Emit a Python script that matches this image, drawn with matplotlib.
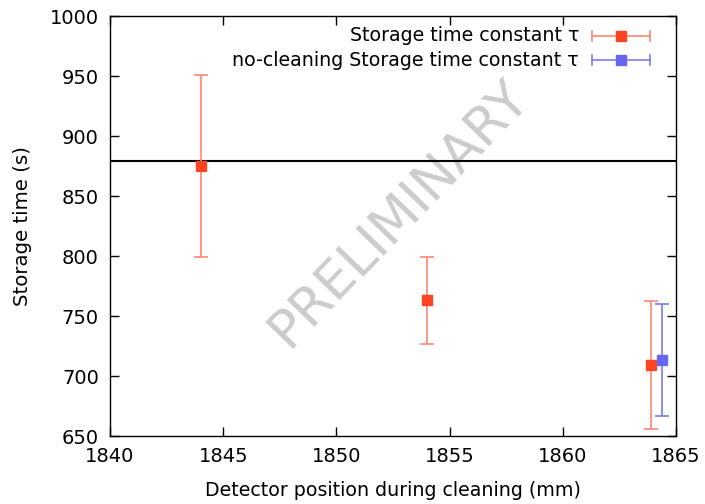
import matplotlib
matplotlib.use('Agg')
import matplotlib.pyplot as plt
from matplotlib.lines import Line2D

# storage time vs detector position during cleaning
pos = [1844, 1854, 1863.9]
tau = [875, 763, 709]
tau_err = [76, 36.5, 53.5]

pos_nc = [1864.4]
tau_nc = [713.5]
tau_nc_err = [46.5]

ref_tau = 879.4

red = '#ff4422'
red_bar = '#ff8877'
blue = '#6666ee'
blue_bar = '#7a7aee'

plt.rcParams['font.family'] = 'DejaVu Sans'
plt.rcParams['font.size'] = 14

fig = plt.figure(figsize=(7.05, 5.04), dpi=100)
ax = fig.add_axes([110 / 705, 68 / 504, 566 / 705, 420 / 504])

ax.text(0.51, 0.53, 'PRELIMINARY', transform=ax.transAxes, fontsize=38,
        color='#cccccc', rotation=46, ha='center', va='center', zorder=0)

ax.axhline(ref_tau, color='black', lw=1.5, zorder=2)

ax.errorbar(pos, tau, yerr=tau_err, fmt='none', ecolor=red_bar, elinewidth=1.2,
            capsize=5, capthick=1.2, zorder=3)
ax.plot(pos, tau, 's', color=red, ms=7, zorder=4)
ax.errorbar(pos_nc, tau_nc, yerr=tau_nc_err, fmt='none', ecolor=blue_bar, elinewidth=1.2,
            capsize=5, capthick=1.2, zorder=3)
ax.plot(pos_nc, tau_nc, 's', color=blue, ms=7, zorder=4)

ax.set_xlim(1840, 1865)
ax.set_ylim(650, 1000)
ax.set_xticks(range(1840, 1866, 5))
ax.set_yticks(range(650, 1001, 50))
ax.tick_params(direction='in', top=True, right=True, length=6.5, width=1, pad=8)
for s in ax.spines.values():
    s.set_linewidth(1.0)

ax.set_xlabel('Detector position during cleaning (mm)', fontsize=13.7, labelpad=11)
ax.set_ylabel('Storage time (s)', fontsize=14.2, labelpad=13)

# gnuplot-style key: right-aligned text with horizontal error bar samples
labels = ['Storage time constant τ', 'no-cleaning Storage time constant τ']
cols = [(red, red_bar), (blue, blue_bar)]
for i, (lab, (c, cb)) in enumerate(zip(labels, cols)):
    yk = (504 - 35.7 - 24.3 * i) / 504
    fig.text(579 / 705, yk, lab, ha='right', va='center', fontsize=13.7)
    x0, x1, xm = 592 / 705, 650 / 705, 621 / 705
    fig.add_artist(Line2D([x0, x1], [yk, yk], color=cb, lw=1.2))
    for xc in (x0, x1):
        fig.add_artist(Line2D([xc, xc], [yk - 5 / 504, yk + 5 / 504], color=cb, lw=1.2))
    fig.add_artist(Line2D([xm], [yk], marker='s', color=c, ms=7))

fig.savefig('out.png', dpi=100)
